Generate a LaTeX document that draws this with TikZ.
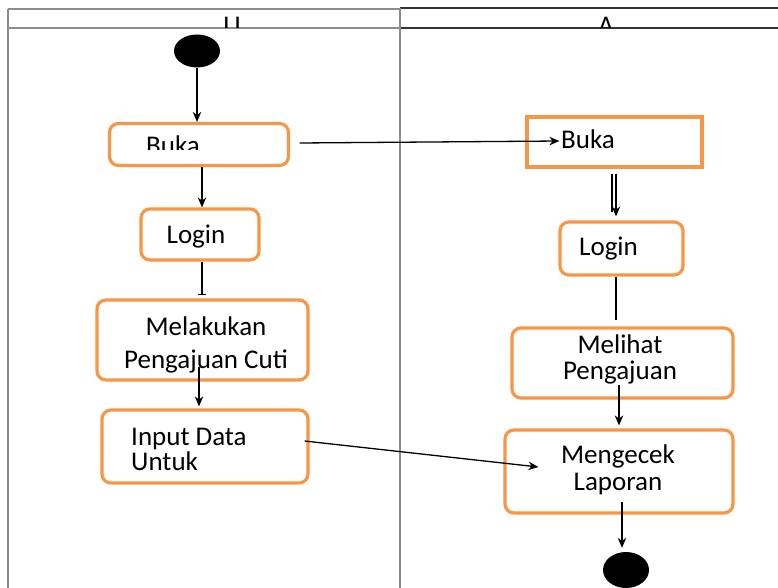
\documentclass[tikz,border=0pt]{standalone}
\usepackage{fontspec}
\setmainfont{Carlito}
\usetikzlibrary{arrows.meta,shapes.geometric}
\definecolor{boxorange}{HTML}{F79646}
\definecolor{lanegray}{HTML}{8C8C8C}
\tikzset{
  actbox/.style={draw=boxorange,line width=3.2pt,rounded corners=9pt,inner sep=0pt},
  sqbox/.style={draw=boxorange,line width=3.2pt,inner sep=0pt},
  lbl/.style={inner sep=0pt,font=\fontsize{27}{32}\selectfont},
  dot/.style={ellipse,fill=black,inner sep=0pt},
  flow/.style={draw=black,line width=1.3pt,-{Stealth[length=10pt,width=8.5pt]}},
  plain/.style={draw=black,line width=1.3pt},
  lane/.style={draw=lanegray,line width=1.4pt}
}
\begin{document}
\begin{tikzpicture}[x=1pt,y=-1pt]
\useasboundingbox (0,0) rectangle (778,588);
\fill[white] (0,0) rectangle (778,588);
% swimlanes
\draw[lane] (8,9) -- (400,9);
\draw[draw=black!80,line width=1.4pt] (400,8) -- (778,8);
\draw[lane] (8,28) -- (400,28);
\draw[draw=black!80,line width=1.4pt] (400,28) -- (778,28);
\draw[lane] (8,9) -- (8,588);
\draw[lane] (400,8) -- (400,588);
\begin{scope}
  \clip (9,10) rectangle (777,27.3);
  \node[lbl,anchor=base] (hu) at (232,35) {U};
  \node[lbl,anchor=base] (ha) at (606,35) {A};
\end{scope}
% boxes
\node[dot,minimum width=46pt,minimum height=33pt] (start) at (197,51) {};
\node[actbox,minimum width=179pt,minimum height=42pt] (lbuka) at (199,144.5) {};
\node[actbox,minimum width=118pt,minimum height=51pt] (llogin) at (200,234.5) {};
\node[actbox,minimum width=211pt,minimum height=80pt] (lmel) at (202.5,340) {};
\node[actbox,minimum width=206pt,minimum height=73pt] (linput) at (205,446.5) {};
\node[sqbox,minimum width=175pt,minimum height=50pt] (rbuka) at (614.5,142) {};
\node[actbox,minimum width=123pt,minimum height=53pt] (rlogin) at (621.5,248.5) {};
\node[actbox,minimum width=221pt,minimum height=70pt] (rmel) at (622.5,363) {};
\node[actbox,minimum width=228pt,minimum height=83pt] (rmen) at (619,471.5) {};
\node[dot,minimum width=46pt,minimum height=36pt] (end) at (626,570) {};
% texts
\begin{scope}
  \clip (100,120) rectangle (300,150);
  \node[lbl,anchor=base] (tlbuka) at (173,155) {Buka};
\end{scope}
\node[lbl,anchor=base] (tllogin) at (196,243) {Login};
\node[lbl,anchor=base] (tmel1) at (206,335) {Melakukan};
\node[lbl,anchor=base] (tmel2) at (206,368) {Pengajuan Cuti};
\node[lbl,anchor=base west] (tin1) at (131,445) {Input Data};
\node[lbl,anchor=base west] (tin2) at (131,470) {Untuk};
\node[lbl,anchor=base west] (trbuka) at (561,149) {Buka};
\node[lbl,anchor=base west] (trlogin) at (579,255) {Login};
\node[lbl,anchor=base] (trmel1) at (620,353) {Melihat};
\node[lbl,anchor=base] (trmel2) at (620,379) {Pengajuan};
\node[lbl,anchor=base] (tmen1) at (618,463) {Mengecek};
\node[lbl,anchor=base] (tmen2) at (618,490) {Laporan};
% connectors
\draw[flow] (start.south) -- (start.south |- lbuka.north);
\draw[flow] ([xshift=3pt]lbuka.south) -- ([xshift=2pt]llogin.north);
\draw[plain,-{Bar[width=8pt]},shorten >=3pt] ([xshift=2pt]llogin.south) -- ([xshift=-0.5pt]lmel.north);
\draw[flow] ([xshift=-3.5pt,yshift=15pt]lmel.south) -- ([xshift=-6pt,yshift=2pt]linput.north);
\draw[flow] ([xshift=-5pt,yshift=5.5pt]linput.east) -- ([xshift=35pt,yshift=4.5pt]rmen.west);
\draw[flow] ([xshift=9.5pt,yshift=1.5pt]lbuka.east) -- ([xshift=34pt,yshift=1pt]rbuka.west);
\draw[plain] ([xshift=-2.5pt,yshift=-5pt]rbuka.south) -- ([xshift=-9.5pt,yshift=8pt]rlogin.north);
\draw[flow] ([xshift=1.5pt,yshift=-5pt]rbuka.south) -- ([xshift=-5.5pt,yshift=4pt]rlogin.north);
\draw[plain] ([xshift=-5.5pt]rlogin.south) -- ([xshift=-6.5pt,yshift=6pt]rmel.north);
\draw[flow] ([xshift=-3.5pt,yshift=15pt]rmel.south) -- ([yshift=3pt]rmen.north);
\draw[flow] ([xshift=3pt,yshift=13pt]rmen.south) -- ([xshift=-4pt,yshift=4pt]end.north);
\end{tikzpicture}
\end{document}
